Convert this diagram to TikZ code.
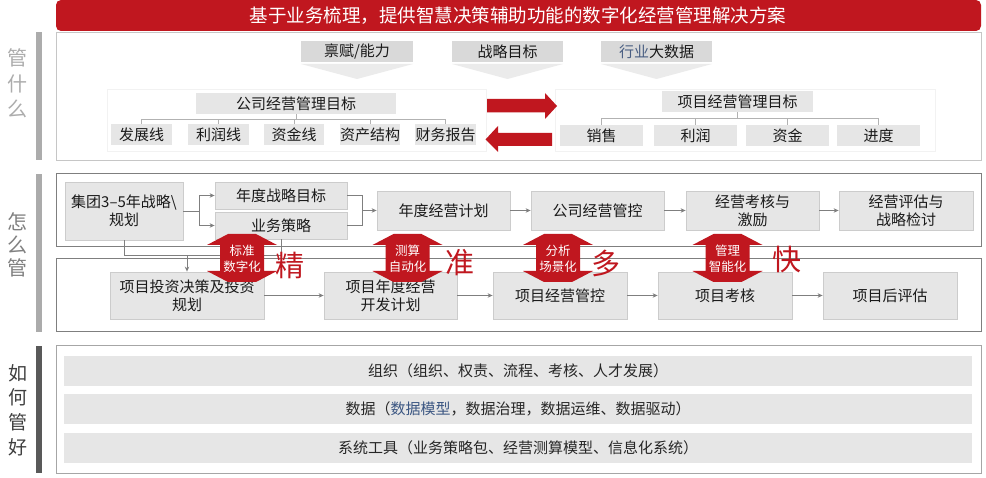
\documentclass[tikz,border=0pt]{standalone}
\usepackage{fontspec}
\setmainfont{Noto Sans CJK SC}
\usetikzlibrary{arrows.meta}
\definecolor{ired}{RGB}{192,23,31}
\definecolor{boxg}{RGB}{230,230,230}
\definecolor{boxb}{RGB}{204,204,204}
\definecolor{topg}{RGB}{217,217,217}
\definecolor{trig}{RGB}{235,235,235}
\definecolor{lng}{RGB}{127,127,127}
\definecolor{txt}{RGB}{26,26,26}
\definecolor{slate}{RGB}{59,86,130}
\newcommand\fsz[1]{\fontsize{#1}{#1}\selectfont}
\newcommand\two[2]{\raisebox{-2pt}[\height][\depth]{\renewcommand\arraystretch{1.22}\begin{tabular}{@{}c@{}}#1\\#2\end{tabular}}}
\tikzset{
  bx/.style={rectangle, inner sep=0pt, fill=boxg, draw=boxb, line width=0.8pt, align=center, text=txt, font=\fsz{15}},
  tb/.style={rectangle, inner sep=0pt, fill=topg, align=center, text=txt, font=\fsz{15}},
  lb/.style={rectangle, inner sep=0pt, fill=boxg, align=center, text=txt, font=\fsz{15}},
  ln/.style={draw=lng, line width=0.8pt},
  arr/.style={draw=lng, line width=0.8pt, -{Stealth[length=5pt,width=4.5pt]}},
  tree/.style={draw=gray!60, line width=0.8pt},
  side/.style={font=\fsz{20}, inner sep=0pt},
  big/.style={font=\fsz{29}, text=ired, inner sep=0pt},
  dtxt/.style={font=\fsz{12.5}, text=white, inner sep=0pt, align=center, execute at begin node={\setlength{\baselineskip}{16pt}}},
}
\newcommand\dblarrow[1]{%
  \fill[ired] (#1-14,234) -- (#1+14,234) -- (#1+35,245) -- (#1+22,245) -- (#1+22,271) -- (#1+35,271)
    -- (#1+14,282) -- (#1-14,282) -- (#1-35,271) -- (#1-22,271) -- (#1-22,245) -- (#1-35,245) -- cycle;}
\begin{document}
\begin{tikzpicture}[x=1pt,y=-1pt]
\useasboundingbox (0,0) rectangle (986,478);
\fill[white] (0,0) rectangle (986,478);
% banner
\fill[ired, rounded corners=5pt] (56,0) rectangle (981,31);
\node[font=\fsz{18.5}, text=white, inner sep=0pt] (ban) at (518,16) {基于业务梳理，提供智慧决策辅助功能的数字化经营管理解决方案};
% side bars and labels
\fill[gray!65] (36,32) rectangle (42,160);
\fill[gray!90!black!60] (36,174) rectangle (42,332);
\fill[black!65] (36,346) rectangle (42,473);
\node[side, text=gray!65] (s1a) at (18,58) {管};
\node[side, text=gray!65] (s1b) at (18,84) {什};
\node[side, text=gray!65] (s1c) at (18,109) {么};
\node[side, text=black!50] (s2a) at (18,222) {怎};
\node[side, text=black!50] (s2b) at (18,245) {么};
\node[side, text=black!50] (s2c) at (18,268) {管};
\node[side, text=black!75, font=\fsz{19}] (s3a) at (18,373) {如};
\node[side, text=black!75, font=\fsz{19}] (s3b) at (18,397) {何};
\node[side, text=black!75, font=\fsz{19}] (s3c) at (18,422) {管};
\node[side, text=black!75, font=\fsz{19}] (s3d) at (18,447) {好};

% ===== section 1 =====
\draw[gray!45, line width=1pt] (56,33) rectangle (981,161);
\fill[trig] (301,64) -- (413,64) -- (357,79) -- cycle;
\fill[trig] (452,64) -- (563,64) -- (507.5,79) -- cycle;
\fill[trig] (601,64) -- (712,64) -- (656.5,79) -- cycle;
\node[tb, minimum width=112, minimum height=21] (bf) at (357,51.5) {禀赋/能力};
\node[tb, minimum width=111, minimum height=21] (zl) at (507.5,51.5) {战略目标};
\node[tb, minimum width=111, minimum height=21] (hy) at (656.5,51.5) {\textcolor{slate!80!gray}{行业}大数据};
\draw[gray!10, line width=0.6pt] (107,89) rectangle (486,151);
\draw[gray!10, line width=0.6pt] (555,89) rectangle (935,151);
\node[lb, minimum width=200, minimum height=21] (gs) at (296,103.5) {公司经营管理目标};
\node[lb, minimum width=61, minimum height=21] (c1) at (141.5,134.5) {发展线};
\node[lb, minimum width=61, minimum height=21] (c2) at (218.5,134.5) {利润线};
\node[lb, minimum width=60, minimum height=21] (c3) at (294,134.5) {资金线};
\node[lb, minimum width=60, minimum height=21] (c4) at (370,134.5) {资产结构};
\node[lb, minimum width=61, minimum height=21] (c5) at (445.5,134.5) {财务报告};
\draw[tree] (gs.south) -- ++(0,5.5) coordinate (gt);
\foreach \c in {c1,c2,c3,c4,c5} \draw[tree] (gt) -| (\c.north);
\node[lb, minimum width=151, minimum height=21] (xm) at (737.5,101.5) {项目经营管理目标};
\node[lb, minimum width=83, minimum height=21] (d1) at (601.5,135.5) {销售};
\node[lb, minimum width=83, minimum height=21] (d2) at (695.5,135.5) {利润};
\node[lb, minimum width=83, minimum height=21] (d3) at (787.5,135.5) {资金};
\node[lb, minimum width=83, minimum height=21] (d4) at (878.5,135.5) {进度};
\draw[tree] (xm.south) -- ++(0,6) coordinate (xt);
\foreach \c in {d1,d2,d3,d4} \draw[tree] (xt) -| (\c.north);
% red exchange arrows
\fill[ired] (487,99) -- (545,99) -- (545,93) -- (557,106) -- (545,119) -- (545,112.5) -- (487,112.5) -- cycle;
\fill[ired] (552,133) -- (498,133) -- (498,126) -- (485.5,139.5) -- (498,152) -- (498,146) -- (552,146) -- cycle;

% ===== section 2 =====
\draw[lng, line width=1pt] (56,174) rectangle (981,247);
\draw[lng, line width=1pt] (56,259) rectangle (981,332);
\node[bx, minimum width=118, minimum height=58] (jt) at (124,211) {\two{集团3–5年战略\textbackslash}{规划}};
\node[bx, minimum width=132, minimum height=27] (nd) at (281,195.5) {年度战略目标};
\node[bx, minimum width=132, minimum height=27] (yw) at (281,225.5) {业务策略};
\node[bx, minimum width=133, minimum height=39] (jh) at (443.5,210.5) {年度经营计划};
\node[bx, minimum width=133, minimum height=39] (gk) at (597.5,210.5) {公司经营管控};
\node[bx, minimum width=133, minimum height=39] (kh) at (752.5,210.5) {\two{经营考核与}{激励}};
\node[bx, minimum width=134, minimum height=39] (pg) at (906,210.5) {\two{经营评估与}{战略检讨}};
\node[bx, minimum width=154, minimum height=47] (tz) at (187,295.5) {\two{项目投资决策及投资}{规划}};
\node[bx, minimum width=133, minimum height=47] (kf) at (390.5,295.5) {\two{项目年度经营}{开发计划}};
\node[bx, minimum width=134, minimum height=47] (mg) at (560,295.5) {项目经营管控};
\node[bx, minimum width=134, minimum height=47] (mk) at (725,295.5) {项目考核};
\node[bx, minimum width=134, minimum height=47] (mh) at (890,295.5) {项目后评估};
% connectors
\coordinate (b1) at (199,211);
\coordinate (j2) at (362,210.5);
\coordinate (k) at (187,255.5);
\draw[ln] (jt.east |- b1) -- (b1);
\draw[arr] (b1) |- (nd.west);
\draw[arr] (b1) |- (yw.west);
\draw[ln] (nd.east) -| (j2);
\draw[ln] (yw.east) -| (j2);
\draw[arr] (j2) -- (jh.west);
\draw[arr] (jh) -- (gk);
\draw[arr] (gk) -- (kh);
\draw[arr] (kh) -- (pg);
\draw[ln] (jt.south) -- (jt.south |- k) -- (yw.south |- k) -- (yw.south);
\draw[arr] (k) -- (tz.north);
\draw[arr] (tz) -- (kf);
\draw[arr] (kf) -- (mg);
\draw[arr] (mg) -- (mk);
\draw[arr] (mk) -- (mh);
% double arrows
\dblarrow{242}
\dblarrow{407.5}
\dblarrow{558}
\dblarrow{727.5}
\node[dtxt] (t1) at (242,258.5) {标准\\数字化};
\node[dtxt] (t2) at (407.5,258.5) {测算\\自动化};
\node[dtxt] (t3) at (558,258.5) {分析\\场景化};
\node[dtxt] (t4) at (727.5,258.5) {管理\\智能化};
\node[big] (w1) at (290,265) {精};
\node[big] (w2) at (460,263) {准};
\node[big] (w3) at (606,263) {多};
\node[big] (w4) at (787,260) {快};

% ===== section 3 =====
\draw[gray!70, line width=1pt] (56,346) rectangle (981,473);
\node[lb, minimum width=908, minimum height=30, text=black!85] (r1) at (518,371) {组织（组织、权责、流程、考核、人才发展）};
\node[lb, minimum width=908, minimum height=30, text=black!85] (r2) at (518,409) {数据（\textcolor{slate}{数据模型}，数据治理，数据运维、数据驱动）};
\node[lb, minimum width=908, minimum height=30, text=black!85] (r3) at (518,448) {系统工具（业务策略包、经营测算模型、信息化系统）};
\end{tikzpicture}
\end{document}
